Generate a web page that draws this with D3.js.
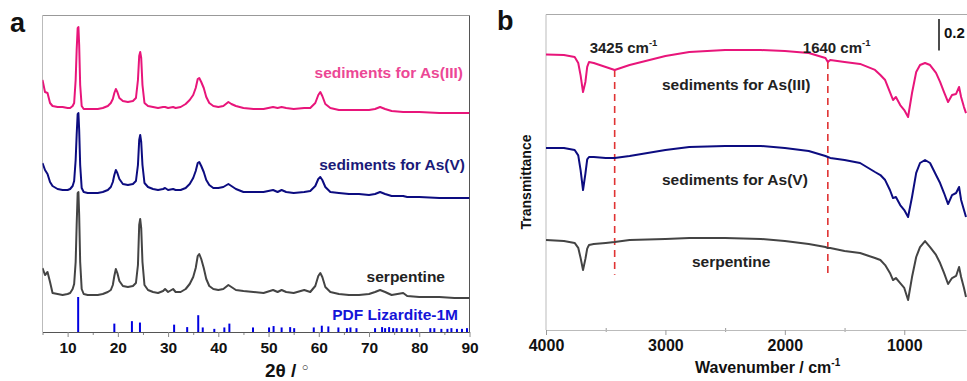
<!DOCTYPE html>
<html>
<head>
<meta charset="utf-8">
<script src="https://cdn.jsdelivr.net/npm/d3@7"></script>
<style>
  body { margin: 0; background: #fff; }
  text { font-family: "Liberation Sans", Arial, sans-serif; font-weight: bold; }
</style>
</head>
<body>
<svg id="fig" width="967" height="381"></svg>
<script>
// ---- panel a: XRD (stacked, a.u.) ----
const twoTheta = [5, 5.5, 6, 6.5, 7, 8, 9, 10, 10.5, 11, 11.3, 11.6, 11.8, 12.0, 12.15, 12.3, 12.5, 12.8, 13.2, 14,
  15, 16, 17, 18, 18.6, 19.0, 19.3, 19.6, 19.9, 20.3, 21, 22, 23, 23.6, 24.0, 24.25, 24.45, 24.65, 24.9, 25.3,
  26, 27, 28, 29, 29.4, 30, 31, 31.5, 32.5, 33.5, 34.3, 35, 35.5, 35.9, 36.2, 36.6, 37.1, 37.6, 38.2, 39,
  40, 41, 42, 42.6, 43.5, 45, 47, 49, 50.9, 51.8, 52.6, 53.5, 55, 57.1, 58.3, 59.3, 59.9, 60.3, 60.7, 61.3,
  62.3, 64, 66, 68, 70, 71.2, 72.2, 73.2, 74.5, 76.8, 77.6, 80, 84, 87, 90];
const xrdSerpentine = [64, 57, 60, 50, 39, 38, 37, 38, 39, 43, 48, 70, 107, 139, 140, 117, 70, 43, 38, 37,
  37, 37, 38, 40, 42, 47, 56, 63, 59, 51, 46, 45, 46, 49, 67, 107, 113, 104, 70, 47,
  42, 40, 39, 41, 43, 40, 43, 40, 40, 43, 48, 55, 64, 76, 78, 73, 64, 53, 46, 43,
  42, 43, 47, 45, 42, 41, 40, 39, 42, 40, 42, 40, 39, 42, 40, 46, 56, 59, 55, 45,
  40, 38, 37, 37, 38, 40, 42, 40, 37, 39, 36, 35, 35, 34, 34];
const xrdAsV = [169, 162, 158, 150, 146, 143, 142, 142, 143, 146, 151, 172, 197, 218, 219, 202, 167, 144, 140, 139,
  139, 139, 140, 142, 145, 150, 157, 162, 159, 153, 148, 147, 148, 151, 167, 192, 197, 190, 167, 149,
  145, 143, 142, 143, 144, 142, 143, 142, 142, 144, 148, 154, 161, 169, 170, 166, 160, 152, 147, 144,
  144, 145, 148, 146, 143, 140, 140, 140, 142, 140, 142, 140, 139, 140, 141, 146, 153, 155, 152, 145,
  140, 139, 138, 138, 137, 138, 140, 138, 136, 136, 135, 135, 134, 134, 134];
const xrdAsIII = [252, 240, 239, 229, 226, 225, 225, 224, 224, 226, 229, 252, 282, 304, 305, 287, 247, 226, 223, 223,
  223, 223, 224, 226, 229, 233, 239, 243, 240, 234, 231, 230, 231, 234, 252, 276, 280, 274, 247, 229,
  226, 225, 224, 225, 225, 224, 225, 224, 225, 228, 232, 237, 244, 253, 254, 250, 244, 235, 229, 226,
  225, 226, 230, 228, 226, 224, 223, 223, 225, 224, 225, 224, 223, 224, 224, 229, 237, 240, 236, 228,
  224, 222, 222, 222, 222, 223, 225, 223, 221, 220, 220, 220, 219, 219, 219];
// PDF Lizardite-1M reference lines (relative intensity)
const pdfPos = [12.1, 19.3, 22.8, 24.4, 31.2, 33.8, 36.0, 36.9, 39.2, 41.2, 42.2, 46.9, 50.1, 51.0, 52.6, 54.3, 55.1,
  59.0, 60.6, 61.9, 63.9, 65.6, 66.3, 67.5, 71.2, 72.6, 73.2, 74.0, 74.8, 75.5, 76.5, 77.6, 78.5, 79.5,
  82.2, 83.0, 84.4, 85.6, 86.4, 87.5, 88.5, 89.5];
const pdfInt = [100, 24, 31, 27, 21, 14, 48, 13, 9, 13, 24, 13, 13, 17, 13, 14, 11,
  13, 18, 16, 13, 11, 13, 11, 11, 14, 11, 14, 11, 11, 11, 11, 9, 11,
  11, 11, 9, 9, 11, 9, 9, 11];
const xrdTicks = [10, 20, 30, 40, 50, 60, 70, 80, 90];
const xrdMinor = [5, 15, 25, 35, 45, 55, 65, 75, 85];

// ---- panel b: FTIR (stacked transmittance, a.u.) ----
const wavenumber = [4000, 3850, 3760, 3730, 3710, 3690, 3670, 3655, 3640, 3600, 3500, 3425, 3300, 3000, 2800, 2500,
  2200, 2000, 1800, 1660, 1640, 1620, 1500, 1370, 1245, 1200, 1160, 1120, 1094, 1070, 1034, 1000,
  968, 935, 900, 868, 826, 784, 734, 700, 667, 633, 600, 566, 541, 524, 500, 483];
const ftirAsIII = [1.744, 1.741, 1.728, 1.690, 1.610, 1.506, 1.570, 1.665, 1.696, 1.690, 1.665, 1.646, 1.677, 1.734, 1.759, 1.772,
  1.772, 1.766, 1.753, 1.722, 1.696, 1.709, 1.696, 1.684, 1.646, 1.614, 1.582, 1.506, 1.456, 1.475, 1.424, 1.392,
  1.348, 1.500, 1.633, 1.677, 1.690, 1.677, 1.627, 1.570, 1.506, 1.443, 1.487, 1.494, 1.538, 1.475, 1.411, 1.373];
const ftirAsV = [1.152, 1.152, 1.139, 1.105, 1.010, 0.886, 0.990, 1.080, 1.095, 1.095, 1.089, 1.089, 1.101, 1.139, 1.158, 1.165,
  1.165, 1.152, 1.133, 1.101, 1.095, 1.089, 1.076, 1.057, 1.000, 0.981, 0.949, 0.886, 0.835, 0.842, 0.791, 0.759,
  0.715, 0.842, 0.994, 1.057, 1.076, 1.057, 0.981, 0.930, 0.867, 0.797, 0.854, 0.867, 0.905, 0.823, 0.759, 0.715];
const ftirSerpentine = [0.570, 0.563, 0.551, 0.520, 0.455, 0.380, 0.450, 0.515, 0.538, 0.544, 0.551, 0.557, 0.570, 0.576, 0.582, 0.582,
  0.576, 0.563, 0.544, 0.525, 0.519, 0.519, 0.500, 0.487, 0.456, 0.443, 0.411, 0.361, 0.316, 0.329, 0.297, 0.266,
  0.190, 0.335, 0.462, 0.525, 0.563, 0.525, 0.475, 0.424, 0.361, 0.291, 0.329, 0.342, 0.399, 0.335, 0.266, 0.209];
const ftirTicks = [4000, 3000, 2000, 1000];
const ftirMinor = [3500, 2500, 1500];
const bandMarks = [3425, 1640];
const bandLabels = ["3425 cm", "1640 cm"];

const pink = "#e8157a", navy = "#0c0c80", grey = "#444444";

const svg = d3.select("#fig");

// ================= panel a =================
const xa = d3.scaleLinear().domain([5, 90]).range([42.5, 469.5]);
const ya = d3.scaleLinear().domain([0, 318]).range([332, 14]);
const yPdf = d3.scaleLinear().domain([0, 100]).range([332, 297]);

const ga = svg.append("g");
ga.append("defs").append("clipPath").attr("id", "clipA")
  .append("rect").attr("x", 42.5).attr("y", 14).attr("width", 427).attr("height", 318);

// frame
ga.append("line").attr("x1", 42.5).attr("x2", 469.5).attr("y1", 15.5).attr("y2", 15.5).attr("stroke", "#999");
ga.append("line").attr("x1", 42.5).attr("x2", 42.5).attr("y1", 15.5).attr("y2", 332).attr("stroke", "#bbb");
ga.append("line").attr("x1", 469.5).attr("x2", 469.5).attr("y1", 15.5).attr("y2", 332).attr("stroke", "#555");

const lineA = d3.line().x((d, i) => xa(twoTheta[i])).y(d => ya(d));
const tracesA = ga.append("g").attr("clip-path", "url(#clipA)");
[[xrdAsIII, pink], [xrdAsV, navy], [xrdSerpentine, grey]].forEach(([vals, c]) => {
  tracesA.append("path").datum(vals)
    .attr("fill", "none").attr("stroke", c).attr("stroke-width", 2)
    .attr("stroke-linejoin", "round").attr("d", lineA);
});

ga.append("g").selectAll("line").data(pdfPos).join("line")
  .attr("x1", d => xa(d)).attr("x2", d => xa(d))
  .attr("y1", yPdf(0)).attr("y2", (d, i) => yPdf(pdfInt[i]))
  .attr("stroke", "#0000e0").attr("stroke-width", 2);

// axis
ga.append("g").attr("transform", "translate(0,332)")
  .call(d3.axisBottom(xa).tickValues(xrdMinor).tickSize(3).tickFormat("").tickSizeOuter(0))
  .call(g => g.select(".domain").remove())
  .call(g => g.selectAll(".tick line").attr("stroke", "#888"));
ga.append("g").attr("transform", "translate(0,332)")
  .call(d3.axisBottom(xa).tickValues(xrdTicks).tickSize(5).tickPadding(5).tickSizeOuter(0))
  .call(g => g.select(".domain").attr("stroke", "#555").attr("stroke-width", 1.2))
  .call(g => g.selectAll(".tick line").attr("stroke", "#888"))
  .call(g => g.selectAll(".tick text").attr("font-size", 15.5).attr("font-family", null).attr("fill", "#111"));

ga.append("text").attr("x", 265).attr("y", 377).attr("font-size", 19).attr("fill", "#111")
  .text("2θ / ").append("tspan").attr("font-size", 11).attr("font-weight", "normal").attr("dy", -6).text("○");

// labels
ga.append("text").attr("x", 463).attr("y", 78).attr("text-anchor", "end").attr("font-size", 15.5)
  .attr("fill", "#ec4795").text("sediments for As(III)");
ga.append("text").attr("x", 465).attr("y", 170).attr("text-anchor", "end").attr("font-size", 15.5)
  .attr("fill", "#1a1a78").text("sediments for As(V)");
ga.append("text").attr("x", 445).attr("y", 282).attr("text-anchor", "end").attr("font-size", 15.5)
  .attr("fill", "#222").text("serpentine");
ga.append("text").attr("x", 458).attr("y", 320).attr("text-anchor", "end").attr("font-size", 15.5)
  .attr("fill", "#1414d8").text("PDF Lizardite-1M");

svg.append("text").attr("x", 10).attr("y", 32).attr("font-size", 27).attr("fill", "#111").text("a");

// ================= panel b =================
const xb = d3.scaleLinear().domain([4000, 483]).range([546, 966]);
const yb = d3.scaleLinear().domain([0, 2]).range([330, 14]);

const gb = svg.append("g");
gb.append("line").attr("x1", 546).attr("x2", 967).attr("y1", 14.5).attr("y2", 14.5).attr("stroke", "#aaa");
gb.append("line").attr("x1", 546).attr("x2", 546).attr("y1", 14.5).attr("y2", 330).attr("stroke", "#bbb");

// dashed band markers
gb.append("g").selectAll("line").data(bandMarks).join("line")
  .attr("x1", d => xb(d)).attr("x2", d => xb(d))
  .attr("y1", d => yb(ftirAsIII[wavenumber.indexOf(d)]))
  .attr("y2", yb(0.35))
  .attr("stroke", "#e03333").attr("stroke-width", 1.6).attr("stroke-dasharray", "7,5");

const lineB = d3.line().x((d, i) => xb(wavenumber[i])).y(d => yb(d));
[[ftirAsIII, pink], [ftirAsV, navy], [ftirSerpentine, grey]].forEach(([vals, c]) => {
  gb.append("path").datum(vals)
    .attr("fill", "none").attr("stroke", c).attr("stroke-width", 2)
    .attr("stroke-linejoin", "round").attr("d", lineB);
});

gb.append("g").attr("transform", "translate(0,330)")
  .call(d3.axisBottom(xb).tickValues(ftirMinor).tickSize(2).tickFormat("").tickSizeOuter(0))
  .call(g => g.select(".domain").remove())
  .call(g => g.selectAll(".tick line").attr("stroke", "#999").attr("y1", -2));
gb.append("g").attr("transform", "translate(0,330)")
  .call(d3.axisBottom(xb).tickValues(ftirTicks).tickFormat(d3.format("d")).tickSize(5).tickPadding(4.5).tickSizeOuter(0))
  .call(g => g.select(".domain").attr("stroke", "#bbb").attr("stroke-width", 1.2))
  .call(g => g.selectAll(".tick line").attr("stroke", "#999"))
  .call(g => g.selectAll(".tick text").attr("font-size", 16).attr("font-family", null).attr("fill", "#111"));

const xt = gb.append("text").attr("x", 695).attr("y", 373).attr("font-size", 16).attr("fill", "#111").text("Wavenumber / cm");
xt.append("tspan").attr("font-size", 10).attr("dy", -7).text("-1");

gb.append("text").attr("transform", "translate(531,182) rotate(-90)").attr("text-anchor", "middle")
  .attr("font-size", 14).attr("fill", "#111").text("Transmittance");

// band labels
bandMarks.forEach((w, i) => {
  const t = gb.append("text").attr("x", xb(w) - 25).attr("y", 53).attr("font-size", 15).attr("fill", "#222").text(bandLabels[i]);
  t.append("tspan").attr("font-size", 9.5).attr("dy", -7).text("-1");
});

gb.append("text").attr("x", 662).attr("y", 90).attr("font-size", 15.5).attr("fill", "#222").text("sediments for As(III)");
gb.append("text").attr("x", 662).attr("y", 185).attr("font-size", 15.5).attr("fill", "#222").text("sediments for As(V)");
gb.append("text").attr("x", 692).attr("y", 267).attr("font-size", 15.5).attr("fill", "#222").text("serpentine");

// scale bar 0.2
gb.append("line").attr("x1", 939).attr("x2", 939)
  .attr("y1", 19).attr("y2", 19 + (yb(0) - yb(0.2)))
  .attr("stroke", "#111").attr("stroke-width", 1.5);
gb.append("text").attr("x", 944).attr("y", 38).attr("font-size", 15).attr("fill", "#111").text("0.2");

svg.append("text").attr("x", 497).attr("y", 30).attr("font-size", 27).attr("fill", "#111").text("b");
</script>
</body>
</html>
